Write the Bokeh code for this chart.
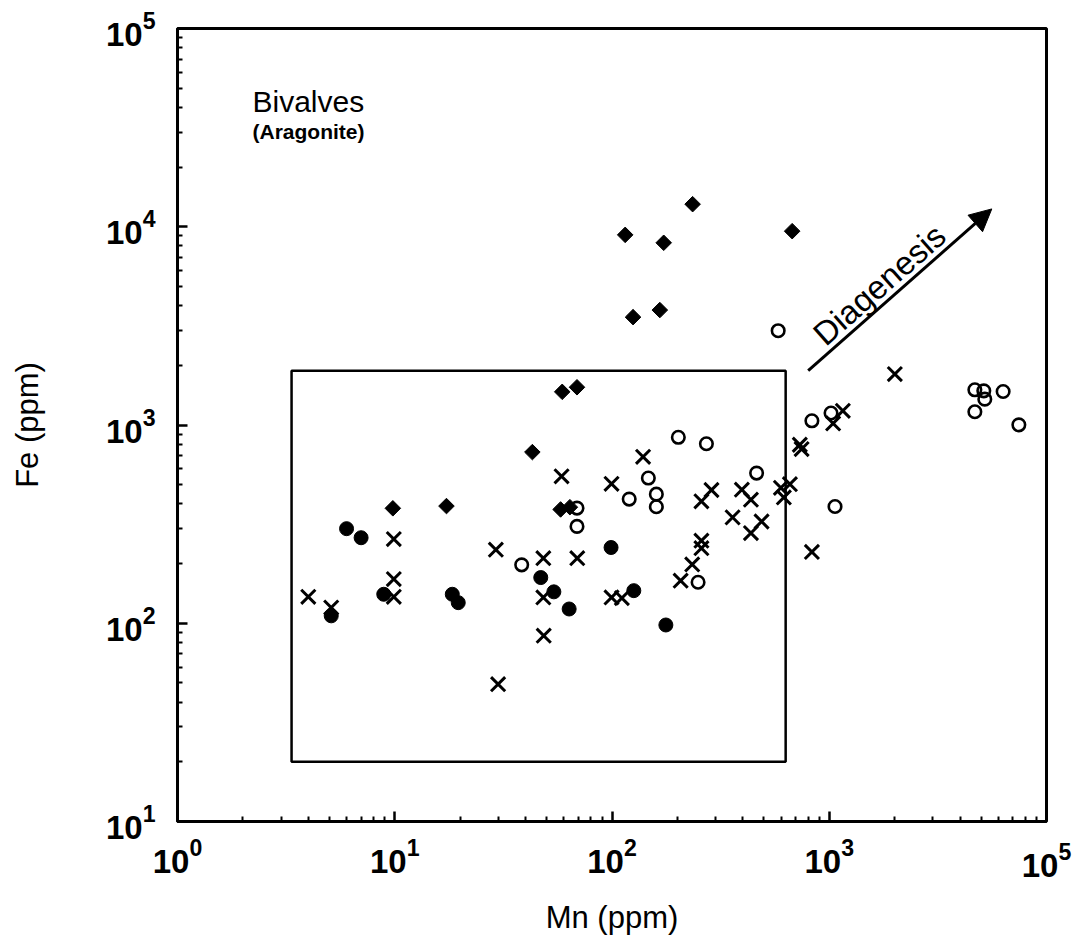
import math

from bokeh.plotting import figure
from bokeh.models import (Range1d, FixedTicker, Label, Arrow, NormalHead,
                          LogAxis, LogScale)
from bokeh.embed import file_html
from bokeh.resources import INLINE

# ---- data: Mn and Fe contents (ppm) for each sample group ----
diamond_mn = [235, 115, 173, 675, 125, 166, 59, 69, 43, 17.3, 9.8, 58, 64]
diamond_fe = [13000, 9100, 8300, 9500, 3500, 3800, 1470, 1550, 730, 390, 380, 375, 385]

dot_mn = [6.0, 7.0, 5.1, 8.9, 18.4, 19.6, 47, 54, 63.5, 99, 126, 177]
dot_fe = [300, 270, 109, 140, 140, 127, 170, 144, 118, 241, 146, 98]

ring_mn = [582, 202, 272, 147, 120, 160, 160, 69, 69, 38.4, 463, 832, 1019,
           1063, 249, 4680, 5145, 5200, 6315, 4680, 7460]
ring_fe = [2990, 867, 804, 540, 423, 448, 387, 381, 308, 197, 572, 1050, 1150,
           388, 161, 1505, 1487, 1350, 1476, 1166, 1002]

cross_mn = [4.0, 5.1, 9.9, 9.9, 9.9, 29.2, 29.9, 48.3, 48.3, 48.5, 69.2, 58.6,
            99.5, 139, 99.5, 111, 258, 287, 396, 436, 359, 488, 436, 659, 599,
            618, 258, 258, 234, 207, 732, 746, 1155, 1042, 832, 2004]
cross_fe = [136, 120, 266, 167, 136, 235, 49.3, 213, 135, 86.5, 213, 551, 505,
            691, 135, 134, 412, 470, 472, 420, 342, 326, 285, 503, 482, 431,
            261, 239, 198, 164, 795, 756, 1179, 1018, 229, 1806]

# unaltered aragonite field (Mn left/right, Fe bottom/top)
field_mn = [3.35, 630]
field_fe = [20, 1880]

# diagenetic trend arrow (Mn, Fe at tail and head)
trend_mn = [800, 5600]
trend_fe = [1880, 12300]

# axis ticks; the last Mn decade is printed as 10^5
x_ticks = [1, 10, 100, 1000]
x_last_label = 1e5
y_ticks = [10, 100, 1000, 10000, 100000]

FONT = "Liberation Sans"
TICK_FONT_SIZE = "33px"

p = figure(frame_width=869, frame_height=793,
           x_axis_type="log", y_axis_type="log",
           x_range=Range1d(1, 1e4), y_range=Range1d(10, 1e5),
           min_border_left=177, min_border_right=40,
           min_border_top=28, min_border_bottom=126,
           output_backend="svg", toolbar_location=None,
           background_fill_color="white", border_fill_color="white")

p.grid.visible = False
p.outline_line_color = "black"
p.outline_line_width = 3


def minor_for(lo_exp, hi_exp):
    return [k * 10 ** e for e in range(lo_exp, hi_exp) for k in range(2, 10)]


xa = p.xaxis[0]
ya = p.yaxis[0]
xa.ticker = FixedTicker(ticks=x_ticks, minor_ticks=minor_for(0, 4))
ya.ticker = FixedTicker(ticks=y_ticks, minor_ticks=minor_for(1, 5))

for ax in (xa, ya):
    ax.axis_line_width = 3
    ax.axis_line_color = "black"
    ax.major_tick_in = 10
    ax.major_tick_out = 0
    ax.minor_tick_in = 5
    ax.minor_tick_out = 0
    ax.major_tick_line_width = 2.5
    ax.minor_tick_line_width = 2
    ax.major_label_text_font = FONT
    ax.major_label_text_font_style = "bold"
    ax.major_label_text_font_size = TICK_FONT_SIZE
    ax.major_label_text_color = "black"

xa.major_label_standoff = 16
ya.major_label_standoff = 22

ya.axis_label = "Fe (ppm)"
ya.axis_label_text_font = FONT
ya.axis_label_text_font_style = "normal"
ya.axis_label_text_font_size = "31px"
ya.axis_label_text_color = "black"
ya.axis_label_standoff = 58

# companion bottom axis on a shifted range that carries the final "10^5" label
p.extra_x_ranges = {"shifted": Range1d(10, 1e5)}
p.extra_x_scales = {"shifted": LogScale()}
xb = LogAxis(x_range_name="shifted", ticker=FixedTicker(ticks=[x_last_label]),
             axis_line_color=None, major_tick_line_color=None,
             minor_tick_line_color=None,
             major_label_text_font=FONT, major_label_text_font_style="bold",
             major_label_text_font_size=TICK_FONT_SIZE, major_label_text_color="black",
             major_label_standoff=-40,
             axis_label="Mn (ppm)", axis_label_text_font=FONT,
             axis_label_text_font_style="normal", axis_label_text_font_size="31px",
             axis_label_text_color="black", axis_label_standoff=20)
p.add_layout(xb, "below")

# sample groups
p.quad(left=[field_mn[0]], right=[field_mn[1]], bottom=[field_fe[0]], top=[field_fe[1]],
       fill_color=None, line_color="black", line_width=2.5)

p.scatter(cross_mn, cross_fe, marker="x", size=20, line_width=3, line_color="black")
p.scatter(ring_mn, ring_fe, marker="circle", size=12.5, fill_color=None,
          line_color="black", line_width=2.6)
p.scatter(dot_mn, dot_fe, marker="circle", size=14, fill_color="black", line_color="black")
p.scatter(diamond_mn, diamond_fe, marker="square", angle=math.pi / 4, size=11,
          fill_color="black", line_color="black")

# trend arrow
p.add_layout(Arrow(x_start=trend_mn[0], y_start=trend_fe[0],
                   x_end=trend_mn[1], y_end=trend_fe[1],
                   line_width=3, line_color="black",
                   end=NormalHead(size=22, fill_color="black", line_color="black")))
p.add_layout(Label(x=1700, y=5100, text="Diagenesis", angle=math.radians(41.4),
                   text_align="center", text_baseline="middle",
                   text_font=FONT, text_font_size="33px", text_color="black"))

# panel title
p.add_layout(Label(x=1, y=1e5, x_offset=75, y_offset=-73, text="Bivalves",
                   text_align="left", text_baseline="middle", text_color="black",
                   text_font=FONT, text_font_size="30px"))
p.add_layout(Label(x=1, y=1e5, x_offset=75, y_offset=-103, text="(Aragonite)",
                   text_align="left", text_baseline="middle", text_color="black",
                   text_font=FONT, text_font_style="bold", text_font_size="21px"))

open("out.html", "w").write(file_html(p, INLINE))
